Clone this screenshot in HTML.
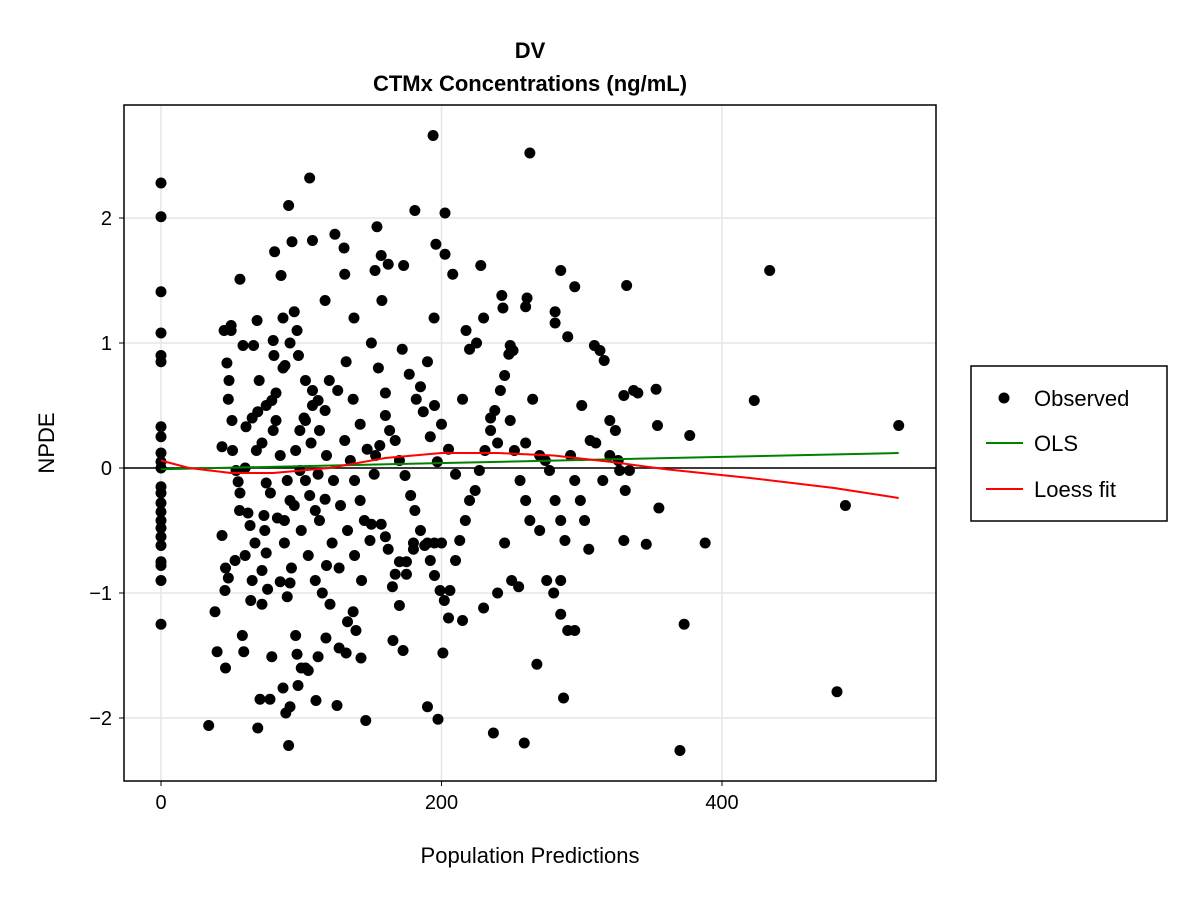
<!DOCTYPE html>
<html><head><meta charset="utf-8"><style>
body{margin:0;background:#fff;}
svg{display:block;font-family:"Liberation Sans",sans-serif;}
</style></head><body>
<svg id="chart" width="1200" height="900" xmlns="http://www.w3.org/2000/svg">
<rect width="1200" height="900" fill="#fff"/>
<text x="530" y="58" text-anchor="middle" font-size="22" font-weight="bold">DV</text>
<text x="530" y="91" text-anchor="middle" font-size="22" font-weight="bold">CTMx Concentrations (ng/mL)</text>
<g id="grid"></g>
<g id="marks"></g>
<rect x="124" y="105" width="812" height="676" fill="none" stroke="#000" stroke-width="1.5"/>
<g id="ticks"></g>
<text x="530" y="863" text-anchor="middle" font-size="22">Population Predictions</text>
<text transform="translate(54,443) rotate(-90)" text-anchor="middle" font-size="22">NPDE</text>
<g>
<rect x="971" y="366" width="196" height="155" fill="#fff" stroke="#000" stroke-width="1.5"/>
<circle cx="1004" cy="398" r="5.5" fill="#000"/>
<text x="1034" y="406" font-size="22">Observed</text>
<line x1="986" y1="443" x2="1023" y2="443" stroke="#008000" stroke-width="2"/>
<text x="1034" y="451" font-size="22">OLS</text>
<line x1="986" y1="489" x2="1023" y2="489" stroke="#ff0000" stroke-width="2"/>
<text x="1034" y="497" font-size="22">Loess fit</text>
</g>
</svg>
<script>
const xTicks=[0,200,400];
const yTicks=[-2,-1,0,1,2];
const obsX=[0,0,0,0,0,0,0,0,0,0,0,0,0,0,0,0,0,0,0,0,0,0,0,
34,38.5,40,43.5,43.5,45,45.6,46,48,46,48,47,48.5,50,50,50.6,51,52.8,53.5,55,56.3,56.3,56,58,59,58.5,60.6,60,62,63.5,64,65,66,68,68.5,69,69,70.6,72,72,73.4,75,75,76,77.7,79,79,80,80.5,81,82,85,85.6,87,87,88.4,89,90,91,91,92,92,93.4,95,96,97,97.7,100,103,105,106,108,110.5,112,117,117.6,118,120.5,124,125.5,127,130.5,131,132,137.6,133,137,139,142.6,146,154,152.6,157,157.5,162,165.4,173,172.6,181,190,194,194.7,196,197.5,201,202.5,202.5,208,217.5,228,237,243,243.8,248,249,251,259,260,261,263,268,281,281,285,287,295,332,337,353,354,355,346,373,377,370,423,434,482,488,526,388,330,326,
99,103,106,110,113,92,88,96,99,103,108,112,117,120,126,131,135,138,142,145,149,153,156,160,163,167,170,174,178,181,185,188,192,195,199,202,206,210,213,217,220,224,227,231,235,238,242,245,249,252,256,260,263,270,274,277,281,285,288,292,295,299,302,306,309,313,316,320,324,327,331,334,
70,75,80,85,90,95,100,105,110,115,65,72,78,83,88,93,98,103,108,113,118,123,128,133,138,143,60,67,74,82,87,92,97,102,107,112,117,122,127,132,137,142,147,152,157,162,167,172,177,182,187,192,197,150,155,160,165,170,175,180,185,190,195,200,205,210,215,220,225,230,235,240,245,250,255,260,265,270,275,280,285,290,295,300,305,310,315,320,330,340,290,285,240,230,215,205,200,195,190,180,175,170,160,150];
const obsY=[2.28,2.01,1.41,1.08,0.9,0.85,0.33,0.25,0.12,0.05,0,-0.15,-0.2,-0.28,-0.35,-0.42,-0.48,-0.55,-0.62,-0.75,-0.78,-0.9,-1.25,
-2.06,-1.15,-1.47,-0.54,0.17,1.1,-0.98,-1.6,-0.88,-0.8,0.55,0.84,0.7,1.1,1.14,0.38,0.14,-0.74,-0.02,-0.11,-0.2,1.51,-0.34,-1.34,-1.47,0.98,0.33,-0.7,-0.36,-0.46,-1.06,-0.9,0.98,0.14,1.18,0.45,-2.08,-1.85,-1.09,-0.82,-0.38,-0.12,-0.68,-0.97,-1.85,-1.51,0.54,1.02,0.9,1.73,0.38,-0.91,1.54,1.2,-1.76,0.82,-1.96,-1.03,2.1,-2.22,-1.91,-0.92,1.81,1.25,-1.34,-1.49,-1.74,-1.6,-1.6,-1.62,2.32,1.82,-1.86,-1.51,1.34,-1.36,-0.78,-1.09,1.87,-1.9,-1.44,1.76,1.55,-1.48,1.2,-1.23,-1.15,-1.3,-1.52,-2.02,1.93,1.58,1.7,1.34,1.63,-1.38,1.62,-1.46,2.06,-1.91,2.66,1.2,1.79,-2.01,-1.48,2.04,1.71,1.55,1.1,1.62,-2.12,1.38,1.28,0.91,0.98,0.94,-2.2,1.29,1.36,2.52,-1.57,1.25,1.16,1.58,-1.84,1.45,1.46,0.62,0.63,0.34,-0.32,-0.61,-1.25,0.26,-2.26,0.54,1.58,-1.79,-0.3,0.34,-0.6,-0.58,0.06,
-0.02,-0.1,-0.22,-0.34,-0.42,-0.26,-0.42,0.14,0.3,0.38,0.62,0.54,0.46,0.7,0.62,0.22,0.06,-0.1,-0.26,-0.42,-0.58,0.1,0.18,0.42,0.3,0.22,0.06,-0.06,-0.22,-0.34,-0.5,-0.62,-0.74,-0.86,-0.98,-1.06,-0.98,-0.74,-0.58,-0.42,-0.26,-0.18,-0.02,0.14,0.3,0.46,0.62,0.74,0.38,0.14,-0.1,-0.26,-0.42,0.1,0.06,-0.02,-0.26,-0.42,-0.58,0.1,-0.1,-0.26,-0.42,0.22,0.98,0.94,0.86,0.38,0.3,-0.02,-0.18,-0.02,
0.7,0.5,0.3,0.1,-0.1,-0.3,-0.5,-0.7,-0.9,-1.0,0.4,0.2,-0.2,-0.4,-0.6,-0.8,0.9,0.7,0.5,0.3,0.1,-0.1,-0.3,-0.5,-0.7,-0.9,0.0,-0.6,-0.5,0.6,0.8,1.0,1.1,0.4,0.2,-0.05,-0.25,-0.6,-0.8,0.85,0.55,0.35,0.15,-0.05,-0.45,-0.65,-0.85,0.95,0.75,0.55,0.45,0.25,0.05,1.0,0.8,0.6,-0.95,-1.1,-0.75,-0.6,0.65,0.85,0.5,0.35,0.15,-0.05,0.55,0.95,1.0,1.2,0.4,0.2,-0.6,-0.9,-0.95,0.2,0.55,-0.5,-0.9,-1.0,-0.9,1.05,-1.3,0.5,-0.65,0.2,-0.1,0.1,0.58,0.6,-1.3,-1.17,-1.0,-1.12,-1.22,-1.2,-0.6,-0.6,-0.6,-0.65,-0.85,-0.75,-0.55,-0.45];
const olsX=[0,526];
const olsY=[-0.01,0.12];
const loessX=[0,20,50,80,120,160,200,240,280,320,360,420,480,526];
const loessY=[0.06,0.0,-0.04,-0.04,0.0,0.08,0.12,0.12,0.1,0.05,-0.01,-0.08,-0.16,-0.24];

const X=v=>161+v*1.4025, Y=v=>468-v*125;
const NS="http://www.w3.org/2000/svg";
function mk(tag,attrs,parent){const e=document.createElementNS(NS,tag);for(const k in attrs)e.setAttribute(k,attrs[k]);parent.appendChild(e);return e;}
const grid=document.getElementById('grid'),ticks=document.getElementById('ticks'),marks=document.getElementById('marks');
xTicks.forEach(t=>{
 const g=mk('line',{x1:X(t),x2:X(t),y1:105,y2:781,stroke:'#e6e6e6','stroke-width':1.5},grid);
 
 
 const tk=mk('line',{x1:X(t),x2:X(t),y1:781,y2:786,stroke:'#000'},ticks);
 
 
 const l=mk('text',{x:X(t),y:809,'text-anchor':'middle','font-size':20},ticks);
 l.textContent=t;
 
 
});
yTicks.forEach(t=>{
 const g=mk('line',{x1:124,x2:936,y1:Y(t),y2:Y(t),stroke:'#e6e6e6','stroke-width':1.5},grid);
 
 
 const tk=mk('line',{x1:119,x2:124,y1:Y(t),y2:Y(t),stroke:'#000'},ticks);
 
 
 const l=mk('text',{x:112,y:Y(t)+7,'text-anchor':'end','font-size':20},ticks);
 l.textContent=t<0?'\u2212'+(-t):t;
 
 
});
obsX.forEach((x,i)=>{
 const c=mk('circle',{cx:X(x),cy:Y(obsY[i]),r:5.5,fill:'#000'},marks);
 
 
});
const zl=mk('line',{x1:124,x2:936,y1:Y(0),y2:Y(0),stroke:'#000','stroke-width':1.5},marks);


const ols=mk('polyline',{points:olsX.map((x,i)=>X(x)+','+Y(olsY[i])).join(' '),fill:'none',stroke:'#008000','stroke-width':2},marks);


const lo=mk('polyline',{points:loessX.map((x,i)=>X(x)+','+Y(loessY[i])).join(' '),fill:'none',stroke:'#ff0000','stroke-width':2,'stroke-linejoin':'round'},marks);


</script>
</body></html>
